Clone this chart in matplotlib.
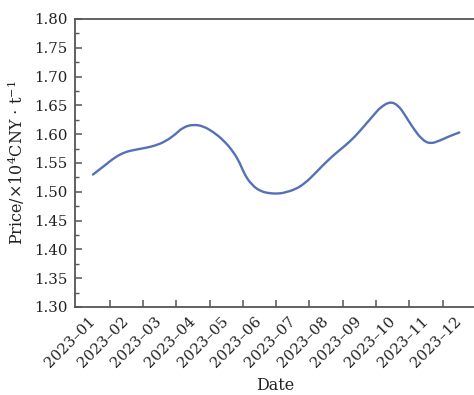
import matplotlib
matplotlib.use("Agg")
import matplotlib.pyplot as plt
import matplotlib.transforms as mtransforms
from matplotlib.path import Path
from matplotlib.patches import PathPatch
import numpy as np

# month labels (data index 0..11 corresponds to each month)
months = ["2023–01", "2023–02", "2023–03", "2023–04", "2023–05", "2023–06",
          "2023–07", "2023–08", "2023–09", "2023–10", "2023–11", "2023–12"]

# position in months (0 = 2023-01) and price (10^4 CNY/t)
pos = [0.00, 0.36, 0.66, 0.96, 1.26, 1.56, 1.86, 2.16, 2.46, 2.70,
       3.01, 3.31, 3.61, 3.91, 4.21, 4.41, 4.56, 4.77, 5.02, 5.32,
       5.62, 5.77, 6.07, 6.37, 6.67, 6.97, 7.27, 7.57, 7.87, 8.17,
       8.47, 8.62, 8.92, 9.17, 9.37, 9.62, 9.87, 10.12, 10.42, 10.72, 11.00]
price = [1.530, 1.546, 1.560, 1.569, 1.573, 1.576, 1.580, 1.587, 1.599, 1.612,
         1.617, 1.614, 1.604, 1.590, 1.570, 1.550, 1.529, 1.512, 1.501, 1.497,
         1.497, 1.499, 1.504, 1.515, 1.532, 1.550, 1.566, 1.580, 1.596, 1.616,
         1.636, 1.646, 1.657, 1.650, 1.633, 1.610, 1.591, 1.583, 1.589, 1.597, 1.603]

plt.rcParams['font.family'] = ['DejaVu Serif']
plt.rcParams['mathtext.fontset'] = 'dejavuserif'

fig = plt.figure(figsize=(4.74, 3.95), dpi=100)
ax = fig.add_axes([75/474, 1-307/395, (476-75)/474, (307-19)/395])

# smooth line: data points used as quadratic Bezier control points
pts = np.column_stack([pos, price])
verts = [pts[0], (pts[0] + pts[1]) / 2]
codes = [Path.MOVETO, Path.LINETO]
for i in range(1, len(pts) - 1):
    verts += [pts[i], (pts[i] + pts[i + 1]) / 2]
    codes += [Path.CURVE3, Path.CURVE3]
verts.append(pts[-1])
codes.append(Path.LINETO)
ax.add_patch(PathPatch(Path(verts, codes), facecolor='none', edgecolor="#5570b6",
                       lw=1.7, capstyle='round', joinstyle='round'))

ax.set_xlim(-0.54, 11.5)
ax.set_ylim(1.30, 1.80)

spine_c = "#555555"
for s in ['left', 'bottom', 'top']:
    ax.spines[s].set_color(spine_c)
    ax.spines[s].set_linewidth(1.3)
ax.spines['right'].set_visible(False)

yt = np.arange(1.30, 1.801, 0.05)
ax.set_yticks(yt)
ax.set_yticks(np.arange(1.30, 1.801, 0.025), minor=True)
ax.set_yticklabels([f"{v:.2f}" for v in yt])
ax.tick_params(axis='y', which='major', direction='in', length=5, width=1.1, color=spine_c,
               labelsize=10.8, pad=5.5, labelcolor="#222222")
ax.tick_params(axis='y', which='minor', direction='in', length=3, width=1.0, color=spine_c)

ax.set_xticks(range(12))
ax.set_xticklabels(months, rotation=45, ha='right', va='top')
ax.set_xticks(np.arange(0.5, 11, 1.0), minor=True)
ax.tick_params(axis='x', which='major', length=0, labelsize=10.8, pad=5, labelcolor="#222222")
ax.tick_params(axis='x', which='minor', direction='in', length=5, width=1.1, color=spine_c)
offset = mtransforms.ScaledTranslation(5/100, 0, fig.dpi_scale_trans)
for lab in ax.get_xticklabels():
    lab.set_transform(lab.get_transform() + offset)

ax.set_xlabel("Date", fontsize=11.5, color="#222222", labelpad=5)
ax.set_ylabel(r"Price/$\times$10$^{4}$CNY $\cdot$ t$^{-1}$", fontsize=11.5, color="#222222", labelpad=5)

fig.savefig("out.png", dpi=100, facecolor="white")
